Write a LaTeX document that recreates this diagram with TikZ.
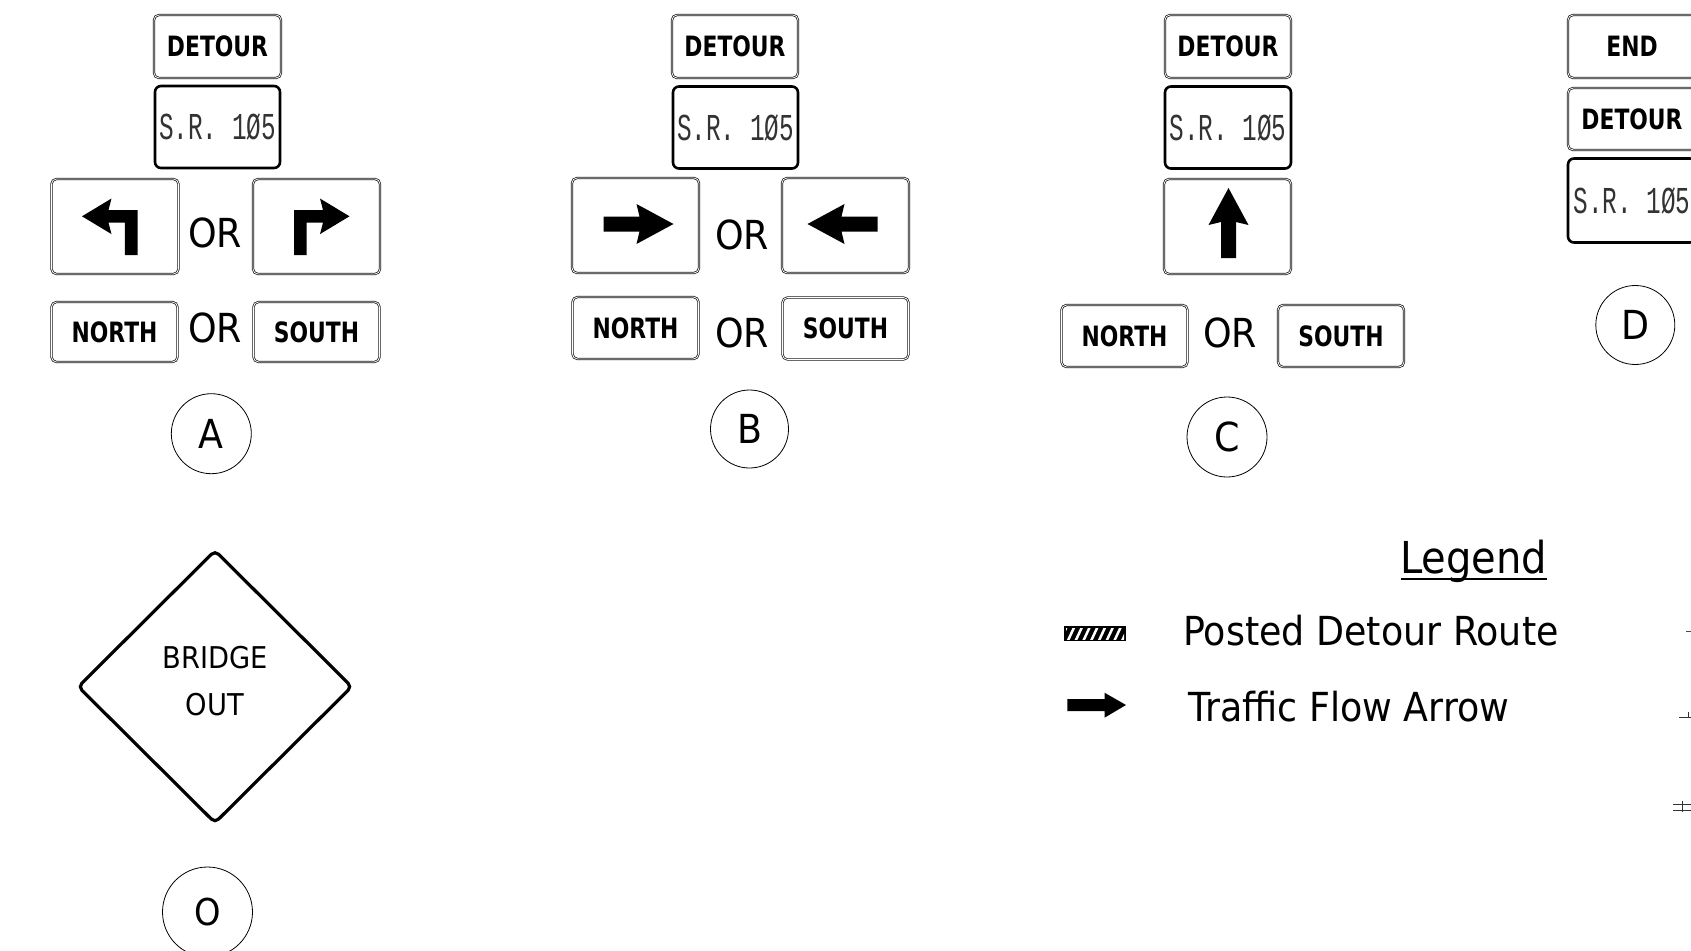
\documentclass[tikz,border=0pt]{standalone}
\usepackage{fontspec}
\setmainfont{DejaVu Sans}[FakeStretch=0.91]
\newfontfamily\signfont{DejaVu Sans}[FakeStretch=0.78]
\newfontfamily\cadfont{Liberation Mono}[FakeStretch=0.64]
\usepackage{tikz}

\tikzset{
	straight arrow/.pic={\fill (-35,-7.5) -- (1,-7.5) -- (-2,-20) -- (35,0) -- (-2,20) -- (1,7.5) -- (-35,7.5) -- cycle;},
	turn arrow/.pic={\fill (-22.5,28.5) -- (-22.5,-16.5) -- (6.5,-16.5) -- (3.5,-28) -- (33,-10.2) -- (3.5,7.6) -- (6.5,-3.8) -- (-9.8,-3.8) -- (-9.8,28.5) -- cycle;}
}

\begin{document}
\begin{tikzpicture}[x=1pt, y=-1pt,
	signbox/.style={draw=black!90, double=white, double distance=0.8pt, line width=0.75pt, rounded corners=5pt, inner sep=0pt, minimum width=126pt, minimum height=62pt, font=\signfont\bfseries\fontsize{28}{28}\selectfont},
	panelbox/.style={signbox, minimum width=127pt, minimum height=95pt},
	routebox/.style={draw, line width=2.6pt, rounded corners=6pt, inner sep=0pt, minimum width=125pt, minimum height=82pt, text=black!80, font=\cadfont\fontsize{38}{38}\selectfont},
	ortext/.style={inner sep=0pt, font=\fontsize{40}{40}\selectfont},
	tagring/.style={circle, draw, line width=0.8pt, inner sep=0pt, minimum size=80pt, font=\fontsize{40}{40}\selectfont},
	legendtext/.style={anchor=base west, inner sep=0pt, font=\fontsize{40}{40}\selectfont}]
	\useasboundingbox (0,0) rectangle (1691,950);

	% Sign Group A %
	\node[signbox, minimum width=127pt, minimum height=63pt] (detA) at (217.5,46.5) {DETOUR};
	\node[routebox] (srA) at (217.5,127) {S.R. 1Ø5};
	\node[panelbox] (turnL) at (115,226.5) {};
	\node[panelbox] (turnR) at (316.5,226.5) {};
	\node[ortext] (orA1) at (215,232.5) {OR};
	\node[signbox, minimum height=60pt] (northA) at (114.5,332) {NORTH};
	\node[signbox, minimum height=60pt] (southA) at (316.5,332) {SOUTH};
	\node[ortext] (orA2) at (215,328) {OR};
	\node[tagring] (tagA) at (211.3,433.7) {A};
	\path (turnL.center) pic[xscale=-1] {turn arrow};
	\path (turnR.center) pic {turn arrow};

	% Sign Group B %
	\node[signbox, minimum height=63pt] (detB) at (735,46.5) {DETOUR};
	\node[routebox] (srB) at (735.5,127.5) {S.R. 1Ø5};
	\node[panelbox] (goR) at (635.5,225.5) {};
	\node[panelbox] (goL) at (845.5,225.5) {};
	\node[ortext] (orB1) at (742,235) {OR};
	\node[signbox] (northB) at (635.5,328) {NORTH};
	\node[signbox] (southB) at (845.5,328.5) {SOUTH};
	\node[ortext] (orB2) at (742,333) {OR};
	\node[tagring, minimum size=78pt] (tagB) at (749.5,429) {B};
	\path (goR.center) ++(3,-1.5) pic {straight arrow};
	\path (goL.center) ++(-3,-1.5) pic[xscale=-1] {straight arrow};

	% Sign Group C %
	\node[signbox, minimum height=63pt] (detC) at (1228,46.5) {DETOUR};
	\node[routebox, minimum width=126pt] (srC) at (1228,127.5) {S.R. 1Ø5};
	\node[panelbox] (goUp) at (1227.5,226.5) {};
	\node[signbox] (northC) at (1124.5,336) {NORTH};
	\node[signbox] (southC) at (1341,336) {SOUTH};
	\node[ortext] (orC) at (1230,332.5) {OR};
	\node[tagring] (tagC) at (1227,437) {C};
	\path (goUp.center) ++(1,-3.5) pic[rotate=90] {straight arrow};

	% Sign Group D %
	\node[signbox, minimum width=128pt, minimum height=63pt] (endD) at (1632,46.5) {END};
	\node[signbox, minimum width=128pt] (detD) at (1632,119) {DETOUR};
	\node[routebox, minimum width=128pt, minimum height=84pt] (srD) at (1632,200.5) {S.R. 1Ø5};
	\node[tagring, minimum size=79pt] (tagD) at (1635.3,325) {D};

	% Bridge Out Warning %
	\draw[line width=3.2pt, rounded corners=5pt] (78.3,686.7) -- (215,550.7) -- (351.7,686.7) -- (215,822.7) -- cycle;
	\node[align=center, inner sep=0pt, font=\fontsize{30}{47}\selectfont] (bridge) at (215,681) {BRIDGE\\OUT};
	\node[tagring, minimum size=90pt, font=\fontsize{37}{37}\selectfont] (tagO) at (207.5,912) {O};

	% Legend %
	\node[anchor=base west, inner sep=0pt, font=\fontsize{44}{44}\selectfont] (legend) at (1400,573.3) {Legend};
	\draw[line width=2pt] (1400.7,579.3) -- (1546.7,579.3);
	\fill (1064,626) rectangle (1126,641);
	\begin{scope}
		\clip (1066,628) rectangle (1124,639);
		\foreach \x in {1060,1067.75,...,1130} \draw[white, line width=2.5pt] (\x,641) -- ++(7,-15);
	\end{scope}
	\node[legendtext] (posted) at (1183,645) {Posted Detour Route};
	\fill (1067.3,699) -- (1104.5,699) -- (1104.5,692.7) -- (1126,705) -- (1104.5,717.7) -- (1104.5,711) -- (1067.3,711) -- cycle;
	\node[legendtext] (traffic) at (1188,721.7) {Traffic Flow Arrow};

	% Edge Ticks %
	\draw[black!70, line width=1pt] (1686,631.7) -- (1691,631.7);
	\draw[black!80, line width=1pt] (1679,717) -- (1691,717) (1688.3,711.7) -- (1688.3,717);
	\draw[black!80, line width=1pt] (1673,804.3) -- (1691,804.3) (1673,810) -- (1691,810) (1682.3,800.7) -- (1682.3,812.3);
\end{tikzpicture}
\end{document}
